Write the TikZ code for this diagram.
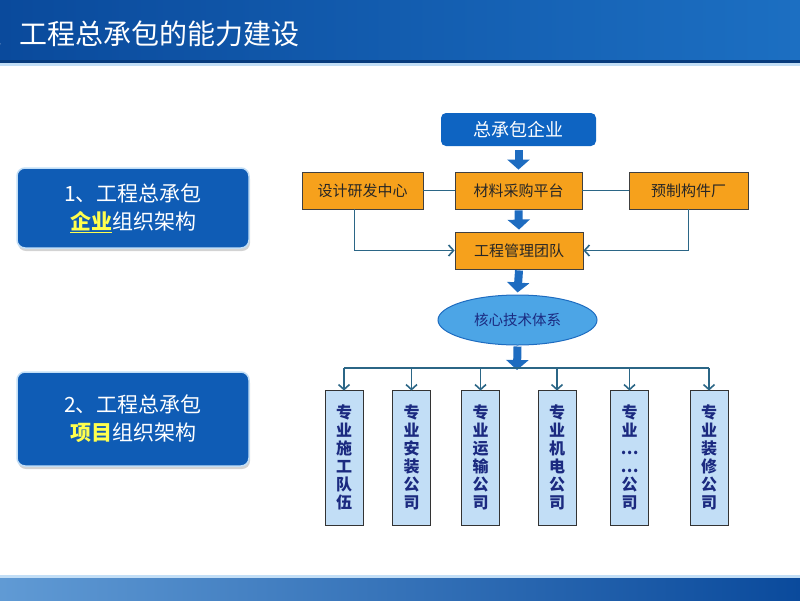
\documentclass[tikz,border=0pt]{standalone}
\usepackage{fontspec}
\setmainfont{Noto Sans CJK SC}
\usetikzlibrary{arrows.meta,positioning,shapes.geometric,shadows}
\definecolor{barblue}{HTML}{0A4A9C}
\definecolor{barblue2}{HTML}{1C6FC2}
\definecolor{boxblue}{HTML}{0F5CB5}
\definecolor{topblue}{HTML}{0E64C2}
\definecolor{orangebox}{HTML}{F6A11C}
\definecolor{coreblue}{HTML}{4CA5E6}
\definecolor{paleblue}{HTML}{C2DEF6}
\definecolor{linecol}{HTML}{2B6686}
\definecolor{arrowblue}{HTML}{1E6CC0}
\definecolor{navytext}{HTML}{1B2A80}
\definecolor{hiyellow}{HTML}{FFFF4D}

\begin{document}
\begin{tikzpicture}[x=1pt,y=-1pt,
  leftbox/.style={draw=paleblue, line width=1.5pt, fill=boxblue, rounded corners=8pt,
    minimum width=232pt, text=white, align=center, inner sep=0pt,
    drop shadow={shadow xshift=1pt, shadow yshift=-3pt, opacity=0.35},
    font=\fontsize{21}{28}\selectfont},
  orangebox/.style={draw=black!75, line width=0.8pt, fill=orangebox, minimum height=37pt,
    inner sep=0pt, text=black!85, font=\fontsize{15}{18}\selectfont},
  unitbox/.style={draw=black!80, line width=0.8pt, fill=paleblue, minimum width=38pt,
    minimum height=135pt, inner sep=0pt, align=center, text=navytext,
    font=\fontsize{16}{18}\selectfont\bfseries},
  bigarrow/.style={draw=arrowblue, line width=8pt, -{Triangle[length=10pt,width=22pt]}},
  conn/.style={draw=linecol, line width=1.6pt, -{Straight Barb[length=5pt,width=11pt]}},
  connline/.style={draw=linecol, line width=1.6pt}]
\useasboundingbox (0,0) rectangle (800,600);
% Title bar
\shade[left color=barblue, right color=barblue2] (0,0) rectangle (800,62);
\fill[barblue!80!black] (0,60) rectangle (800,63);
\fill[paleblue] (0,63) rectangle (800,66);
\node[anchor=west, text=white, font=\fontsize{28}{32}\selectfont, inner sep=0pt] (title) at (-9,34) {、工程总承包的能力建设};
% Bottom bar
\fill[paleblue] (0,575) rectangle (800,578);
\shade[left color=barblue2!70!white, right color=barblue] (0,578) rectangle (800,600);
% Left boxes
\node[leftbox, minimum height=80pt] (corp) at (133,208) {1、工程总承包\\{\color{hiyellow}\bfseries\underline{企业}}组织架构};
\node[leftbox, minimum height=94pt] (proj) at (133,419) {2、工程总承包\\{\color{hiyellow}\bfseries 项目}组织架构};
% Enterprise chart
\node[fill=topblue, rounded corners=5pt, minimum width=155pt, minimum height=33pt, inner sep=0pt,
  text=white, font=\fontsize{18}{20}\selectfont] (gc) at (518.5,129.5) {总承包企业};
\node[orangebox, minimum width=121pt] (design) at (362.5,190.5) {设计研发中心};
\node[orangebox, minimum width=127pt] (purch) at (518.5,190.5) {材料采购平台};
\node[orangebox, minimum width=119pt] (prefab) at (688.5,190.5) {预制构件厂};
\node[orangebox, minimum width=128pt] (mgmt) at (519,250.5) {工程管理团队};
\node[ellipse, draw=arrowblue, line width=1pt, fill=coreblue, minimum width=159pt, minimum height=50pt,
  inner sep=0pt, text=navytext, font=\fontsize{14.5}{16}\selectfont] (core) at (517.5,320) {核心技术体系};
\draw[connline] (design) -- (purch);
\draw[connline] (purch) -- (prefab);
\draw[bigarrow] ([yshift=-4pt]gc.south) -- ([yshift=2pt]purch.north);
\draw[bigarrow] ([yshift=-1pt]purch.south) -- ([yshift=2pt]mgmt.north);
\draw[conn] ([xshift=-8pt]design.south) |- (mgmt.west);
\draw[conn] (prefab.south) |- (mgmt.east);
\draw[bigarrow] ([yshift=-1pt]mgmt.south) -- ([yshift=2pt]core.north);
% Project units
\coordinate (bus) at (517,368);
\node[unitbox] (u1) at (344,457.5) {专\\业\\施\\工\\队\\伍};
\node[unitbox] (u2) at (411.5,457.5) {专\\业\\安\\装\\公\\司};
\node[unitbox] (u3) at (480.5,457.5) {专\\业\\运\\输\\公\\司};
\node[unitbox] (u4) at (557,457.5) {专\\业\\机\\电\\公\\司};
\node[unitbox] (u5) at (629.5,457.5) {专\\业\\…\\…\\公\\司};
\node[unitbox] (u6) at (709,457.5) {专\\业\\装\\修\\公\\司};
\draw[bigarrow] ([yshift=-1pt]core.south) -- ([yshift=-2pt]bus);
\draw[connline] (u1.north |- bus) -- (u6.north |- bus);
\draw[conn] (u1.north |- bus) -- ([yshift=-1pt]u1.north);
\draw[conn] (u2.north |- bus) -- ([yshift=-1pt]u2.north);
\draw[conn] (u3.north |- bus) -- ([yshift=-1pt]u3.north);
\draw[conn] (u4.north |- bus) -- ([yshift=-1pt]u4.north);
\draw[conn] (u5.north |- bus) -- ([yshift=-1pt]u5.north);
\draw[conn] (u6.north |- bus) -- ([yshift=-1pt]u6.north);
\end{tikzpicture}
\end{document}
